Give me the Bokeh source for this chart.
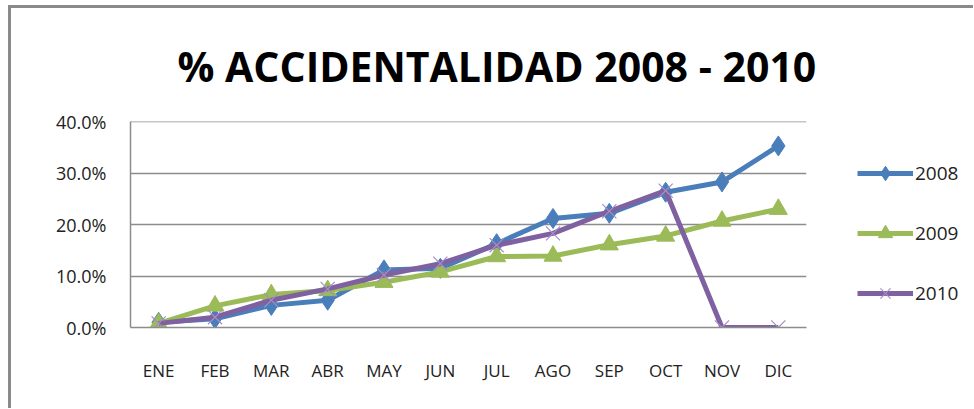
from bokeh.plotting import figure
from bokeh.layouts import row
from bokeh.models import Range1d, NumeralTickFormatter, Legend, LegendItem, FixedTicker
from bokeh.embed import file_html
from bokeh.resources import INLINE

months = ["ENE", "FEB", "MAR", "ABR", "MAY", "JUN", "JUL", "AGO", "SEP", "OCT", "NOV", "DIC"]
v2008 = [0.010, 0.017, 0.043, 0.053, 0.112, 0.115, 0.163, 0.212, 0.222, 0.263, 0.283, 0.353]
v2009 = [0.008, 0.042, 0.064, 0.072, 0.088, 0.108, 0.138, 0.139, 0.161, 0.178, 0.207, 0.230]
v2010 = [0.008, 0.020, 0.053, 0.075, 0.102, 0.124, 0.160, 0.183, 0.226, 0.266, 0.000, 0.000]
series_names = ["2008", "2009", "2010"]
y_ticks = [0.0, 0.1, 0.2, 0.3, 0.4]

C08, C09, C10, CX = "#4a7ebb", "#9bbb59", "#7f60a0", "#a58fc7"
FONT = "Open Sans"
H = 400

p = figure(x_range=months, y_range=Range1d(0, 0.4005), width=807, height=H,
           output_backend="svg", toolbar_location=None,
           min_border_left=119, min_border_right=12, min_border_top=111, min_border_bottom=81)
p.x_range.range_padding = 0

p.title.text = "% ACCIDENTALIDAD 2008 - 2010"
p.title.align = "left"
p.title.text_font = "Open Sans"
p.title.text_font_style = "bold"
p.title.text_font_size = "41px"
p.title.text_color = "black"
p.title.standoff = 55
p.title.offset = 47

p.outline_line_color = None
p.background_fill_color = "white"
p.border_fill_color = "white"

p.xgrid.grid_line_color = None
p.ygrid.grid_line_color = "#8c8c8c"
p.ygrid.grid_line_width = 1.5
p.yaxis.ticker = FixedTicker(ticks=y_ticks)
p.yaxis.formatter = NumeralTickFormatter(format="0.0%")
for ax in (p.xaxis, p.yaxis):
    ax.axis_line_color = "#8c8c8c"
    ax.axis_line_width = 1.5
    ax.major_tick_line_color = None
    ax.minor_tick_line_color = None
    ax.major_label_text_font = FONT
    ax.major_label_text_color = "#222222"
p.xaxis.major_label_text_font_size = "17px"
p.yaxis.major_label_text_font_size = "18px"
p.yaxis.major_label_standoff = 18
p.xaxis.major_label_standoff = 25

series = [v2008, v2009, v2010]
colors = [C08, C09, C10]
markers = [dict(marker="diamond", size=20, fill_color=C08, line_color=C08),
           dict(marker="triangle", size=18, fill_color=C09, line_color=C09),
           dict(marker="x", size=20, line_color=CX, line_width=1.2)]
for vals, col, mk in zip(series, colors, markers):
    p.line(months, vals, line_color=col, line_width=5)
    p.scatter(months, vals, **mk)

# legend panel to the right of the plot area (same series, drawn out of view)
pl = figure(width=155, height=H, output_backend="svg", toolbar_location=None,
            x_axis_location=None, y_axis_location=None,
            x_range=months, y_range=Range1d(1, 2),
            min_border_left=0, min_border_right=0)
pl.grid.grid_line_color = None
pl.outline_line_color = None
pl.background_fill_color = "white"
pl.border_fill_color = "white"
items = []
for name, vals, col, mk in zip(series_names, series, colors, markers):
    lr = pl.line(months, vals, line_color=col, line_width=5)
    mr = pl.scatter(months, vals, **mk)
    items.append(LegendItem(label=name, renderers=[lr, mr]))
legend = Legend(items=items, location=(39, 16))
legend.border_line_color = None
legend.background_fill_alpha = 0
legend.label_text_font = FONT
legend.label_text_font_size = "19px"
legend.label_text_color = "#222222"
legend.glyph_width = 56
legend.glyph_height = 36
legend.spacing = 24
legend.label_standoff = 2
legend.padding = 0
legend.margin = 0
legend.label_height = 20
pl.add_layout(legend, "center")

layout = row(p, pl)
layout.styles = {"border-left": "3px solid #8a8a8a", "border-top": "3px solid #8a8a8a",
                 "margin-left": "8px", "margin-top": "5px"}

open("out.html", "w").write(file_html(layout, INLINE))
